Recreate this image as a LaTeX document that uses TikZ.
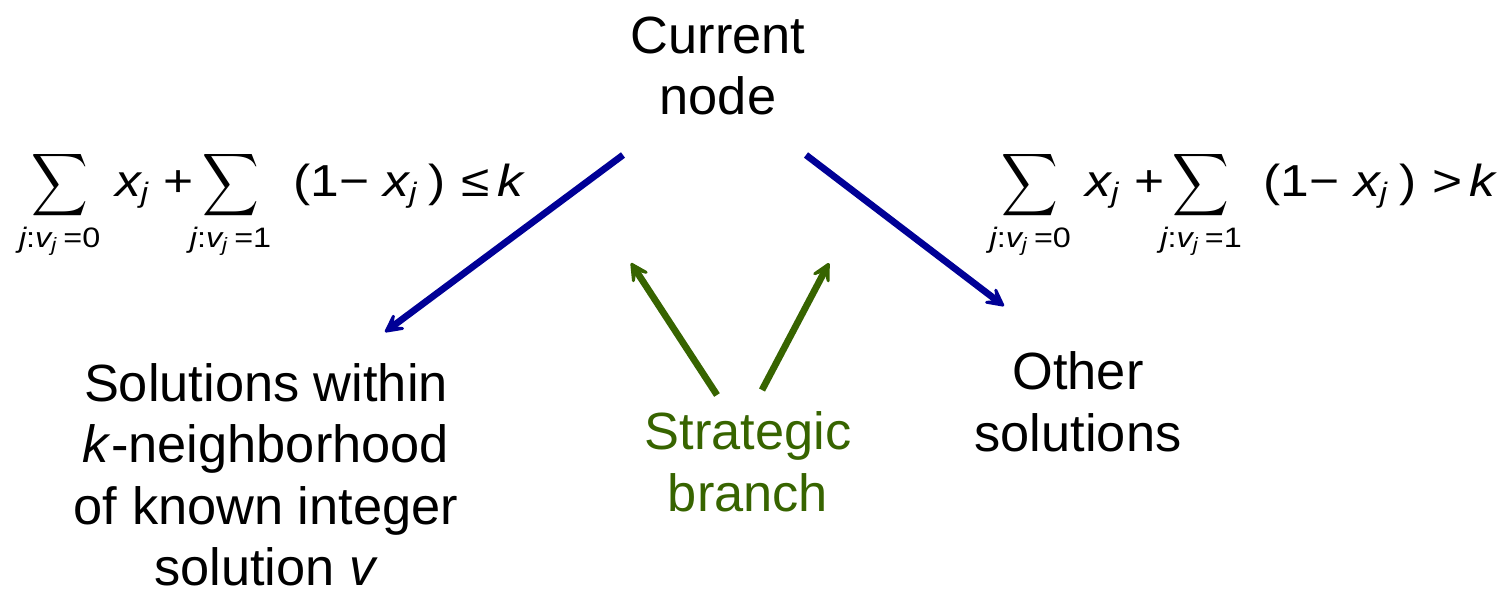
\RequirePackage{fix-cm}
\documentclass[tikz,border=0pt]{standalone}
\usepackage{amsmath}
\usepackage{mathtools}
\usepackage{graphicx}
\usepackage{fontspec}
\setmainfont{Liberation Sans}
\usetikzlibrary{arrows.meta}

\definecolor{branchblue}{RGB}{0,0,150}
\definecolor{hintgreen}{RGB}{55,100,0}

\DeclareMathSizes{25.5}{25.5}{16}{11}

% italic letters of the constraint, set in the text face
\newcommand{\vi}[1]{\text{\itshape #1}}
\newcommand{\bigsum}{\mathop{\scalebox{0.78}[1]{$\displaystyle\sum$}}\limits}
\newcommand{\sumidx}[1]{\mathclap{\vi{j}\text{:}\vi{v}_{\vi{j}}\hspace{0.12em}\text{=#1}}}
\newcommand{\cutlhs}{\displaystyle\bigsum_{\sumidx{0}}\hspace{0.36em}\vi{x}_{\vi{j}}\hspace{0.28em}\text{+}
  \bigsum_{\sumidx{1}}\hspace{0.5em}\text{(1−}\hspace{0.28em}\vi{x}_{\vi{j}}\hspace{0.22em}\text{)}}
% the constraint is set wider than its glyphs
\newcommand{\cut}[1]{\scalebox{1.15}[1]{$\cutlhs\hspace{0.3em}\text{#1}\hspace{0.15em}\vi{k}$}}

\begin{document}
\begin{tikzpicture}[x=0.2mm, y=-0.2mm,
    txt/.style={align=center, inner sep=0pt, font=\fontsize{29.8}{35}\selectfont},
    cond/.style={inner sep=0pt, font=\fontsize{25.5}{30}\selectfont},
    tip/.style={-{Stealth[length=5.4mm, width=5.6mm, inset=3.1mm, round]}},
    branch/.style={tip, line width=1.35mm, branchblue},
    hint/.style={tip, line width=1.35mm, hintgreen}
  ]
  \useasboundingbox (0,0) rectangle (1510,595);

  \node[txt] (cur) at (718,66) {Current\\node};
  \node[txt] (near) at (266,475) {Solutions within\\\textit{k}-neighborhood\\of known integer\\solution \textit{v}};
  \node[txt] (other) at (1078,402) {Other\\solutions};
  \node[txt, hintgreen] (strat) at (748,462) {Strategic\\branch};

  % the two branching constraints
  \node[cond, anchor=base west] (le) at (31,196) {\cut{≤}};
  \node[cond, anchor=base east] (gt) at (1496,196) {\cut{>}};

  % arrow ends
  \coordinate (cur-l) at (623,155);
  \coordinate (cur-r) at (806,155);
  \coordinate (near-in) at (385,332);
  \coordinate (other-in) at (1004,306);
  \coordinate (strat-l) at (717,395);
  \coordinate (strat-r) at (762,390);
  \coordinate (mid-l) at (631,263);
  \coordinate (mid-r) at (829,263);

  \draw[branch] (cur-l) -- (near-in);
  \draw[branch] (cur-r) -- (other-in);
  \draw[hint] (strat-l) -- (mid-l);
  \draw[hint] (strat-r) -- (mid-r);
\end{tikzpicture}
\end{document}
